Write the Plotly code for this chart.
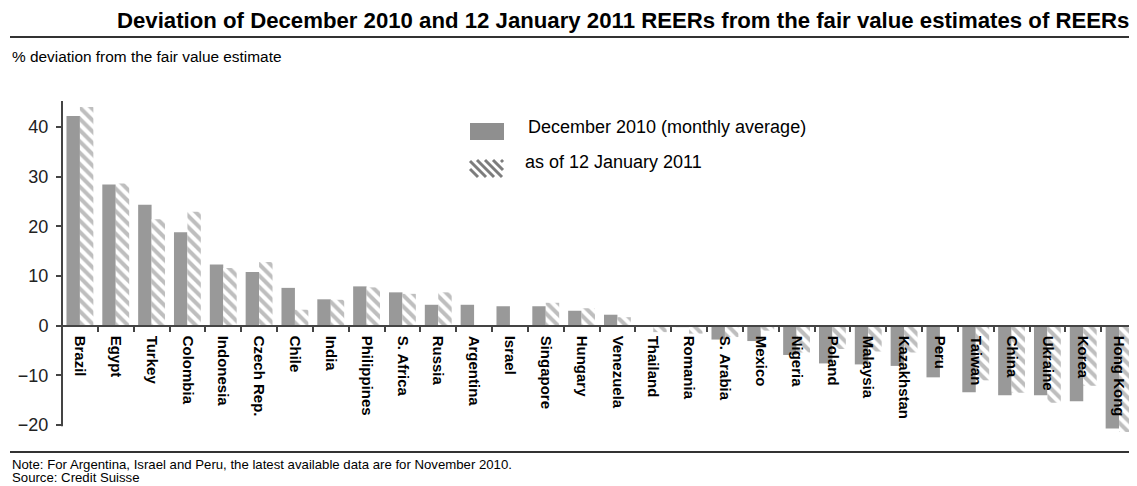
import plotly.graph_objects as go

countries = ["Brazil", "Egypt", "Turkey", "Colombia", "Indonesia", "Czech Rep.", "Chile", "India",
             "Philippines", "S. Africa", "Russia", "Argentina", "Israel", "Singapore", "Hungary",
             "Venezuela", "Thailand", "Romania", "S. Arabia", "Mexico", "Nigeria", "Poland",
             "Malaysia", "Kazakhstan", "Peru", "Taiwan", "China", "Ukraine", "Korea", "Hong Kong"]
dec_2010 = [42.2, 28.4, 24.3, 18.8, 12.3, 10.8, 7.6, 5.3, 7.9, 6.7, 4.2, 4.2, 3.9, 3.9, 3.0,
            2.2, -0.1, -0.3, -2.8, -3.1, -5.9, -7.6, -7.8, -8.1, -10.4, -13.4, -14.0, -14.0, -15.2, -20.7]
jan_2011 = [44.0, 28.6, 21.4, 22.9, 11.6, 12.8, 3.2, 5.2, 7.7, 6.4, 6.7, None, None, 4.6, 3.5,
            1.7, -1.3, -1.6, -2.3, -1.0, -5.4, -4.7, -5.2, -5.4, None, -11.0, -13.5, -15.5, -12.1, -21.4]
y_ticks = [-20, -10, 0, 10, 20, 30, 40]

title = "Deviation of December 2010 and 12 January 2011 REERs from the fair value estimates of REERs"
subtitle = "% deviation from the fair value estimate"
legend_names = ["December 2010 (monthly average)", "as of 12 January 2011"]
notes = ["Note: For Argentina, Israel and Peru, the latest available data are for November 2010.",
         "Source: Credit Suisse"]

# the page body has an 8px margin; work in reference-window pixels and offset
OFF = 8
W, H = 1137 - OFF, 486 - OFF
L, R, T, B = 62 - OFF, 1137 - OFF, 101 - OFF, 433 - OFF
Y_MIN, Y_MAX = -21.6, 45.2
FONT = "Liberation Sans, Arial, sans-serif"
GRAY = "#999999"
HATCH = "#7d7d7d"
AXIS = "#444444"


def px(x):
    return (x - OFF - L) / (R - L)


def py(y):
    return (B - (y - OFF)) / (B - T)


fig = go.Figure()
fig.add_trace(go.Bar(x=countries, y=dec_2010, name=legend_names[0],
                     marker=dict(color=GRAY, line=dict(width=0))))
fig.add_trace(go.Bar(x=countries, y=jan_2011, name=legend_names[1],
                     marker=dict(color="white", line=dict(width=0),
                                 pattern=dict(shape="\\", fgcolor=HATCH, bgcolor="white",
                                              size=8, solidity=0.5))))

shapes = []
# y axis line
shapes.append(dict(type="line", xref="paper", yref="y", x0=0, x1=0, y0=-20.25, y1=Y_MAX,
                   line=dict(color=AXIS, width=2)))
# title rule and footer rule
shapes.append(dict(type="line", xref="paper", yref="paper", x0=px(10), x1=px(1137),
                   y0=py(37), y1=py(37), line=dict(color="#333333", width=2)))
shapes.append(dict(type="line", xref="paper", yref="paper", x0=px(10), x1=px(1137),
                   y0=py(452), y1=py(452), line=dict(color="#333333", width=2)))
# legend swatch: solid
shapes.append(dict(type="rect", xref="paper", yref="paper", x0=px(470), x1=px(504),
                   y0=py(140), y1=py(123), fillcolor="#8f8f8f", line=dict(width=0)))
# legend swatch: hatched
sx0, sx1, sy0, sy1 = 470, 503, 160, 177
c = sx0 - sy1
while c <= sx1 - sy0:
    ya = max(sy0, sx0 - c)
    yb = min(sy1, sx1 - c)
    if yb > ya:
        shapes.append(dict(type="line", xref="paper", yref="paper",
                           x0=px(ya + c), y0=py(ya), x1=px(yb + c), y1=py(yb),
                           line=dict(color=HATCH, width=3)))
    c += 8

annotations = [
    dict(text=f"<b>{title}</b>", xref="paper", yref="paper", x=px(1131), y=py(20),
         xanchor="right", yanchor="middle", showarrow=False,
         font=dict(family=FONT, size=22.2, color="black")),
    dict(text=subtitle, xref="paper", yref="paper", x=px(10), y=py(56),
         xanchor="left", yanchor="middle", showarrow=False,
         font=dict(family=FONT, size=15.4, color="black")),
    dict(text=legend_names[0], xref="paper", yref="paper", x=px(526), y=py(127),
         xanchor="left", yanchor="middle", showarrow=False,
         font=dict(family=FONT, size=18, color="black")),
    dict(text=legend_names[1], xref="paper", yref="paper", x=px(523), y=py(162),
         xanchor="left", yanchor="middle", showarrow=False,
         font=dict(family=FONT, size=18, color="black")),
    dict(text=notes[0], xref="paper", yref="paper", x=px(10), y=py(464),
         xanchor="left", yanchor="middle", showarrow=False,
         font=dict(family=FONT, size=13.2, color="black")),
    dict(text=notes[1], xref="paper", yref="paper", x=px(10), y=py(477),
         xanchor="left", yanchor="middle", showarrow=False,
         font=dict(family=FONT, size=13.2, color="black")),
]

fig.update_layout(
    width=W, height=H,
    margin=dict(l=L, r=W - R, t=T, b=H - B, pad=0),
    paper_bgcolor="white", plot_bgcolor="white",
    barmode="group", bargap=0.25, bargroupgap=0,
    showlegend=False,
    font=dict(family=FONT, color="black"),
    shapes=shapes, annotations=annotations,
    xaxis=dict(type="category", tickangle=90, ticks="outside", tickson="boundaries",
               ticklen=5, tickwidth=2, tickcolor=AXIS, showline=True, linecolor=AXIS,
               linewidth=2, showgrid=False, zeroline=False, anchor="free",
               position=(0 - Y_MIN) / (Y_MAX - Y_MIN),
               tickfont=dict(family=FONT, size=15, color="black", weight="bold"),
               ticklabelstandoff=6),
    yaxis=dict(range=[Y_MIN, Y_MAX], tickvals=y_ticks, ticks="outside", ticklen=5, tickwidth=2,
               tickcolor=AXIS, showline=False, showgrid=False, zeroline=False,
               tickfont=dict(family=FONT, size=18, color="#222222"), ticklabelstandoff=4),
)

fig.write_html("out.html")
